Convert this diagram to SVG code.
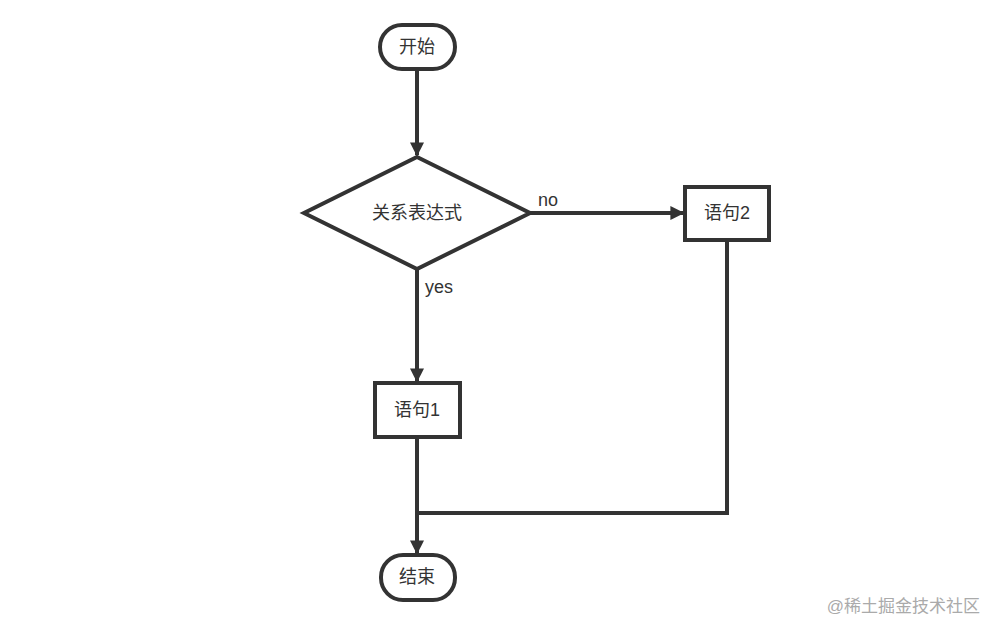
<svg xmlns="http://www.w3.org/2000/svg" width="999" height="635" viewBox="0 0 999 635">
<style>
.s{fill:#fff;stroke:#333;stroke-width:4}
.c{fill:none;stroke:#333;stroke-width:4}
text{font-family:"Liberation Sans","Noto Sans CJK SC",sans-serif;font-size:18px;fill:#333}
.m{text-anchor:middle;dominant-baseline:central}
</style>
<defs><marker id="a" viewBox="0 0 10 10" refX="9" refY="5" markerWidth="3.5" markerHeight="3.5" orient="auto" markerUnits="strokeWidth"><path d="M0,0L10,5L0,10z" fill="#333"/></marker></defs>
<rect width="999" height="635" fill="#fff"/>
<g id="connectors">
<path class="c" d="M417,69V155" marker-end="url(#a)"/>
<path class="c" d="M530,213H683" marker-end="url(#a)"/>
<path class="c" d="M417,269V381" marker-end="url(#a)"/>
<path class="c" d="M417,437V553" marker-end="url(#a)"/>
<path class="c" d="M727,240V513H417"/>
<text x="538" y="206">no</text>
<text x="425" y="293">yes</text>
</g>
<g id="start"><rect class="s" x="380" y="25" width="75" height="44" rx="22"/><text class="m" x="417" y="47">开始</text></g>
<g id="cond"><path class="s" d="M417,157L530,213L417,269L304,213Z"/><text class="m" x="417" y="213">关系表达式</text></g>
<g id="s2"><rect class="s" x="685" y="187" width="84" height="53"/><text class="m" x="727" y="213">语句2</text></g>
<g id="s1"><rect class="s" x="375" y="383" width="85" height="54"/><text class="m" x="417" y="410">语句1</text></g>
<g id="end"><rect class="s" x="381" y="555" width="74" height="45" rx="22"/><text class="m" x="417" y="577">结束</text></g>
<text x="980" y="612" style="font-size:17px;fill:#aaa;text-anchor:end">@稀土掘金技术社区</text>
</svg>
